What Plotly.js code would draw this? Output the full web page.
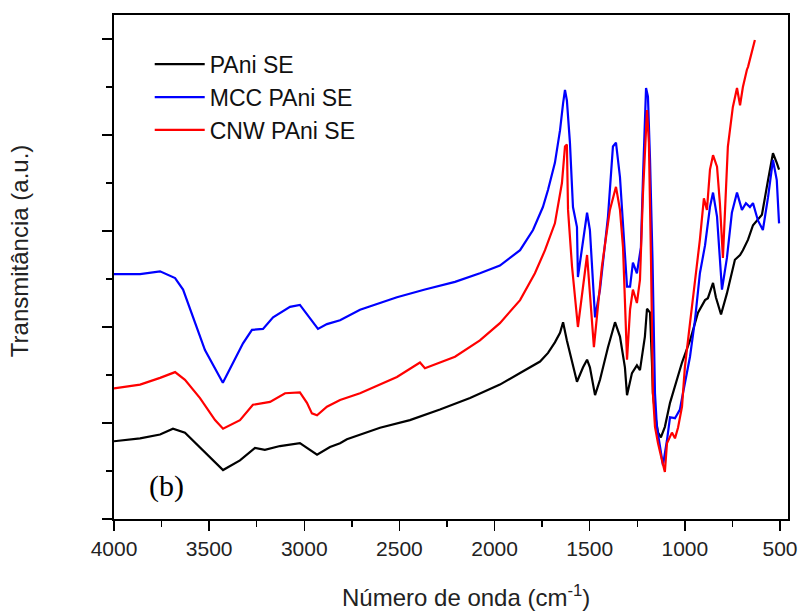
<!DOCTYPE html>
<html>
<head>
<meta charset="utf-8">
<script src="https://cdn.plot.ly/plotly-3.0.1.min.js"></script>
<style>
html,body{margin:0;padding:0;background:#fff;}
#chart{width:798px;height:616px;}
</style>
</head>
<body>
<div id="chart"></div>
<script>
// Wavenumber (cm^-1) and transmittance (a.u.)
const pani_wn = [4000,3863,3758,3690,3627,3548,3469,3427,3338,3259,3207,3128,3023,2970,2933,2865,2812,2776,2602,2445,2287,2129,1972,1866,1761,1719,1683,1656,1640,1620,1593,1567,1535,1514,1499,1472,1446,1404,1367,1341,1315,1304,1278,1252,1236,1210,1199,1183,1173,1168,1157,1141,1126,1105,1078,1052,1015,973,931,894,879,852,837,810,779,737,710,695,668,642,595,563,537,517,505];
const pani_t  = [0.81,0.84,0.88,0.94,0.90,0.75,0.59,0.51,0.61,0.74,0.72,0.76,0.79,0.72,0.67,0.75,0.79,0.83,0.95,1.03,1.14,1.26,1.40,1.52,1.64,1.73,1.84,1.94,2.05,1.86,1.63,1.43,1.58,1.66,1.58,1.29,1.45,1.79,2.05,1.90,1.58,1.29,1.52,1.60,1.55,1.90,2.19,2.15,1.63,1.31,1.10,0.90,0.85,0.96,1.21,1.38,1.63,1.86,2.15,2.28,2.30,2.46,2.31,2.13,2.35,2.70,2.75,2.80,2.91,3.06,3.17,3.53,3.81,3.71,3.64];

const mcc_wn = [4000,3863,3758,3679,3637,3574,3522,3428,3364,3322,3275,3217,3164,3075,3023,2928,2881,2812,2707,2602,2513,2366,2208,2077,1972,1866,1798,1746,1719,1683,1656,1640,1630,1620,1604,1588,1567,1562,1525,1514,1499,1472,1446,1404,1378,1362,1341,1325,1304,1288,1273,1252,1231,1220,1210,1204,1194,1183,1170,1163,1157,1147,1131,1115,1094,1078,1052,1026,1010,973,947,921,894,868,852,831,805,779,753,726,700,679,658,642,616,590,563,537,517,505];
const mcc_t  = [2.55,2.55,2.58,2.51,2.39,2.04,1.76,1.42,1.66,1.83,1.97,1.98,2.10,2.21,2.23,1.98,2.03,2.07,2.18,2.25,2.31,2.39,2.47,2.56,2.64,2.80,3.01,3.25,3.43,3.71,4.05,4.33,4.47,4.36,3.92,3.25,3.04,2.52,3.06,3.19,3.01,2.10,2.39,3.15,3.88,3.92,3.56,3.11,2.42,2.42,2.67,2.56,2.83,3.56,4.26,4.49,4.40,3.74,2.70,1.90,1.31,0.96,0.75,0.56,0.82,1.06,1.05,1.14,1.31,1.69,2.07,2.56,2.85,3.25,3.40,3.15,2.39,2.72,3.19,3.40,3.22,3.29,3.25,3.29,3.11,3.01,3.35,3.74,3.53,3.08];

const cnw_wn = [4000,3863,3758,3679,3627,3548,3469,3427,3338,3270,3180,3101,3023,2986,2960,2933,2881,2812,2707,2602,2513,2392,2366,2208,2077,1972,1866,1788,1735,1683,1646,1630,1620,1614,1593,1562,1514,1478,1436,1394,1362,1341,1325,1304,1288,1273,1252,1236,1220,1199,1189,1178,1168,1157,1141,1120,1105,1094,1068,1052,1036,1015,1000,973,936,921,900,884,868,852,831,816,800,779,774,748,726,710,695,674,668,632];
const cnw_t  = [1.36,1.40,1.47,1.53,1.45,1.26,1.03,0.94,1.03,1.19,1.22,1.31,1.32,1.21,1.10,1.08,1.17,1.24,1.31,1.40,1.48,1.63,1.57,1.69,1.86,2.04,2.28,2.56,2.80,3.08,3.50,3.88,3.90,3.22,2.63,2.00,2.75,1.79,2.63,3.22,3.46,3.22,2.83,1.66,2.18,2.39,2.25,2.49,3.40,4.26,3.92,2.70,1.31,0.96,0.79,0.61,0.49,0.79,0.90,0.84,0.95,1.17,1.58,2.04,2.63,2.91,3.34,3.22,3.64,3.79,3.67,3.29,2.72,3.64,3.88,4.29,4.49,4.31,4.50,4.68,4.71,4.99];

const seriesNames = ["PAni SE","MCC PAni SE","CNW PAni SE"];
const xTickVals = [4000,3500,3000,2500,2000,1500,1000,500];
const xTickText = ["4000","3500","3000","2500","2000","1500","1000","500"];
const xTitle = "Número de onda (cm<sup>-1</sup>)";
const yTitle = "Transmitância (a.u.)";
const panelLabel = "(b)";

const mk = (x,y,name,color) => ({x:x,y:y,name:name,type:"scatter",mode:"lines",
  line:{color:color,width:2.2}});

const data = [
  mk(pani_wn,pani_t,seriesNames[0],"#000000"),
  mk(mcc_wn,mcc_t,seriesNames[1],"#0000ff"),
  mk(cnw_wn,cnw_t,seriesNames[2],"#ff0000")
];

const layout = {
  width:798,height:616,
  paper_bgcolor:"#fff",plot_bgcolor:"#fff",
  margin:{l:114,r:10,t:15,b:97},
  font:{family:"Liberation Sans, Arial, sans-serif",color:"#000"},
  showlegend:true,
  legend:{x:0.053,y:0.945,xanchor:"left",yanchor:"top",bgcolor:"rgba(0,0,0,0)",
    font:{size:23,color:"#111"},itemwidth:50,tracegroupgap:0},
  xaxis:{range:[4000,458],tickvals:xTickVals,ticktext:xTickText,ticks:"outside",ticklen:10,
    tickwidth:1.5,tickcolor:"#000",showline:true,linewidth:2,linecolor:"#000",mirror:true,
    showgrid:false,zeroline:false,tickfont:{size:21,color:"#222"},
    minor:{dtick:250,tick0:0,ticks:"outside",ticklen:6,tickwidth:1.5,tickcolor:"#000",showgrid:false}},
  yaxis:{range:[0,5.25],dtick:1,tick0:0,ticks:"outside",ticklen:10,tickwidth:1.5,tickcolor:"#000",
    showticklabels:false,showline:true,linewidth:2,linecolor:"#000",mirror:true,
    showgrid:false,zeroline:false,
    minor:{dtick:0.5,tick0:0,ticks:"outside",ticklen:6,tickwidth:1.5,tickcolor:"#000",showgrid:false}},
  annotations:[
    {text:panelLabel,xref:"paper",yref:"paper",x:0.078,y:0.065,xanchor:"center",yanchor:"middle",
     showarrow:false,font:{family:"Liberation Serif, Times New Roman, serif",size:30,color:"#000"}},
    {text:xTitle,xref:"paper",yref:"paper",x:0.522,y:-0.153,xanchor:"center",yanchor:"middle",
     showarrow:false,font:{size:24,color:"#222"}},
    {text:yTitle,xref:"paper",yref:"paper",x:-0.139,y:0.532,xanchor:"center",yanchor:"middle",
     textangle:-90,showarrow:false,font:{size:24,color:"#222"}}
  ]
};

Plotly.newPlot("chart",data,layout,{displayModeBar:false,staticPlot:true});
</script>
</body>
</html>
